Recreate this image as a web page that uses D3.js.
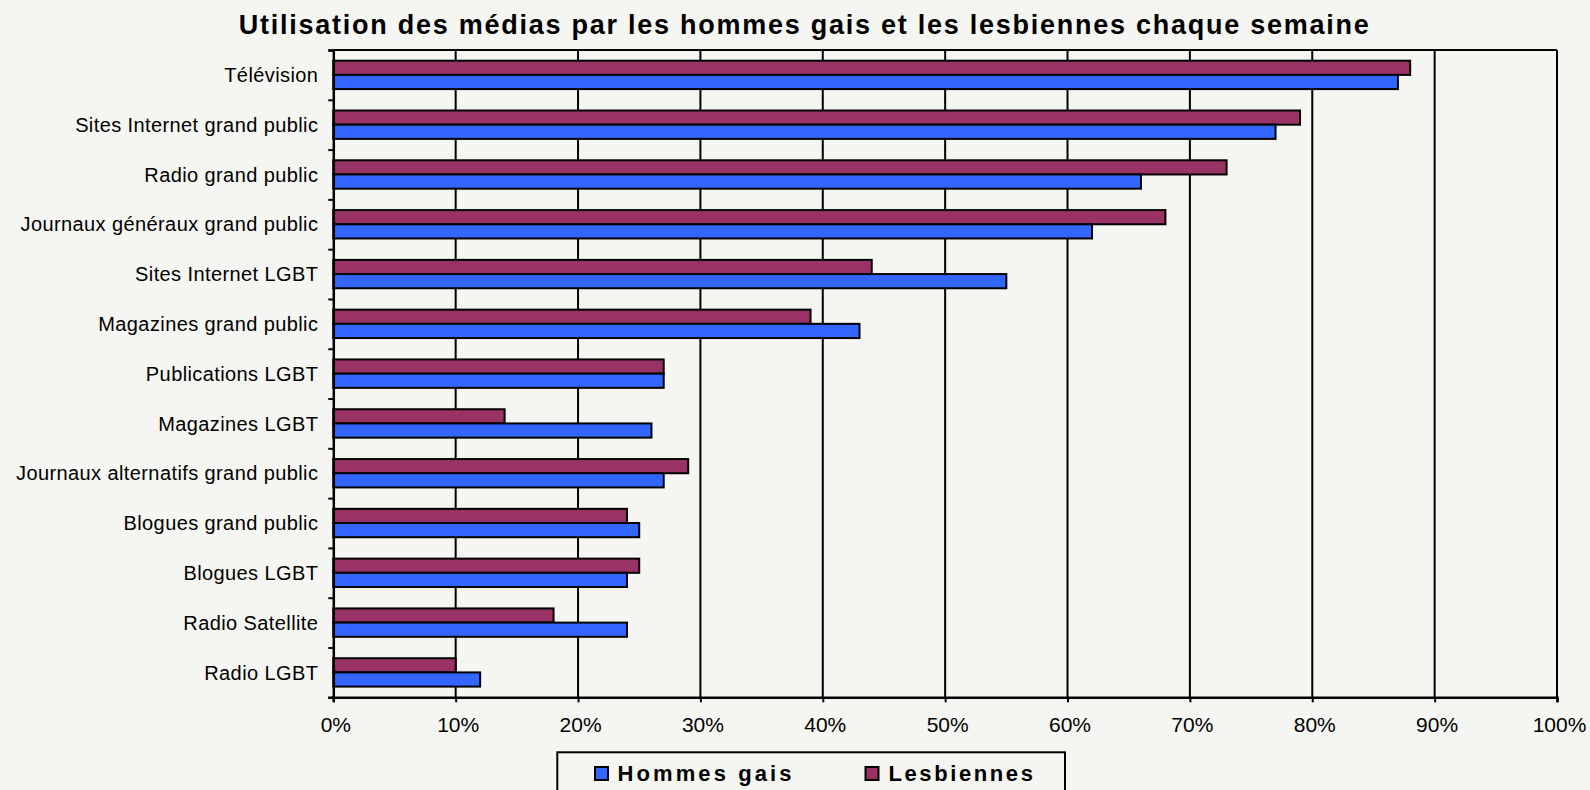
<!DOCTYPE html>
<html>
<head>
<meta charset="utf-8">
<script src="https://cdn.jsdelivr.net/npm/d3@7"></script>
<style>
  html, body { margin: 0; padding: 0; background: #f5f6f1; }
  svg { display: block; }
  text { font-family: "Liberation Sans", Arial, sans-serif; fill: #000; }
</style>
</head>
<body>
<svg id="chart" width="1590" height="790"></svg>
<script>
const categories = [
  "Télévision",
  "Sites Internet grand public",
  "Radio grand public",
  "Journaux généraux grand public",
  "Sites Internet LGBT",
  "Magazines grand public",
  "Publications LGBT",
  "Magazines LGBT",
  "Journaux alternatifs grand public",
  "Blogues grand public",
  "Blogues LGBT",
  "Radio Satellite",
  "Radio LGBT"
];
const hommesGais = [87, 77, 66, 62, 55, 43, 27, 26, 27, 25, 24, 24, 12];
const lesbiennes = [88, 79, 73, 68, 44, 39, 27, 14, 29, 24, 25, 18, 10];
const seriesNames = ["Hommes gais", "Lesbiennes"];
const seriesColors = ["#3366ff", "#993366"];
const xTicks = [0, 10, 20, 30, 40, 50, 60, 70, 80, 90, 100];
const titleText = "Utilisation des médias par les hommes gais et les lesbiennes chaque semaine";

const svg = d3.select("#chart");
const W = 1590, H = 790;
const plot = { left: 333.3, right: 1557, top: 50, bottom: 697.3 };

svg.append("rect").attr("width", W).attr("height", H).attr("fill", "#f5f6f1");

const x = d3.scaleLinear().domain([0, 100]).range([plot.left, plot.right]);
const y = d3.scaleBand().domain(categories).range([plot.top, plot.bottom])
  .paddingInner(0.43).paddingOuter(0.215);
// within a category: Lesbiennes on top, Hommes gais below
const ySub = d3.scaleBand().domain(["Lesbiennes", "Hommes gais"]).range([0, y.bandwidth()]);
const yIdx = d3.scaleLinear().domain([0, categories.length]).range([plot.top, plot.bottom]);

// title
svg.append("text")
  .attr("x", 803.8).attr("y", 34)
  .attr("text-anchor", "middle")
  .attr("font-size", 27).attr("font-weight", "bold")
  .attr("textLength", 1130).attr("lengthAdjust", "spacing")
  .text(titleText);

// gridlines
svg.append("g").selectAll("line").data(xTicks.filter(d => d > 0)).join("line")
  .attr("x1", d => x(d)).attr("x2", d => x(d))
  .attr("y1", plot.top).attr("y2", plot.bottom)
  .attr("stroke", "#000").attr("stroke-width", 2);
// top border
svg.append("line").attr("x1", plot.left).attr("x2", plot.right)
  .attr("y1", plot.top).attr("y2", plot.top)
  .attr("stroke", "#000").attr("stroke-width", 2);

// bars
const rows = categories.map((c, i) => ({ c, Lesbiennes: lesbiennes[i], "Hommes gais": hommesGais[i] }));
const gRows = svg.append("g").selectAll("g").data(rows).join("g")
  .attr("transform", d => `translate(0,${y(d.c)})`);
gRows.selectAll("rect").data(d => ["Lesbiennes", "Hommes gais"].map(s => ({ s, v: d[s] }))).join("rect")
  .attr("x", x(0))
  .attr("y", d => ySub(d.s))
  .attr("width", d => x(d.v) - x(0))
  .attr("height", ySub.bandwidth())
  .attr("fill", d => seriesColors[seriesNames.indexOf(d.s)])
  .attr("stroke", "#000").attr("stroke-width", 2);

// bottom axis
const xAxis = svg.append("g").attr("transform", `translate(0,${plot.bottom})`)
  .call(d3.axisBottom(x).tickValues(xTicks).tickSize(5).tickPadding(7).tickFormat(d => d + "%"));
xAxis.select(".domain").attr("stroke", "#000").attr("stroke-width", 2.5);
xAxis.selectAll(".tick line").attr("stroke", "#000").attr("stroke-width", 2);
xAxis.selectAll(".tick text").attr("font-size", 21).attr("font-family", "Liberation Sans, Arial, sans-serif")
  .attr("fill", "#000").attr("y", 20).attr("dy", "0.71em").attr("dx", 2);

// left axis (ticks between categories)
const yAxisTicks = svg.append("g").attr("transform", `translate(${plot.left},0)`)
  .call(d3.axisLeft(yIdx).tickValues(d3.range(categories.length + 1)).tickSize(5).tickFormat(""));
yAxisTicks.select(".domain").attr("stroke", "#000").attr("stroke-width", 2.5);
yAxisTicks.selectAll(".tick line").attr("stroke", "#000").attr("stroke-width", 2);

// category labels
const yAxisLabels = svg.append("g").attr("transform", `translate(${plot.left},0)`)
  .call(d3.axisLeft(y).tickSize(0).tickPadding(15));
yAxisLabels.select(".domain").remove();
yAxisLabels.selectAll(".tick text")
  .attr("font-size", 20).attr("letter-spacing", "0.4px")
  .attr("font-family", "Liberation Sans, Arial, sans-serif").attr("fill", "#000")
  .attr("dy", "0.36em");

// legend
const lg = svg.append("g");
lg.append("rect").attr("x", 557.3).attr("y", 752.3).attr("width", 507.7).attr("height", 60)
  .attr("fill", "#f5f6f1").attr("stroke", "#000").attr("stroke-width", 2);
const legendItems = [
  { name: seriesNames[0], color: seriesColors[0], sx: 595, tx: 617.5, ls: 3.1 },
  { name: seriesNames[1], color: seriesColors[1], sx: 865.5, tx: 888.5, ls: 2.6 }
];
legendItems.forEach(it => {
  lg.append("rect").attr("x", it.sx).attr("y", 767).attr("width", 13).attr("height", 13)
    .attr("fill", it.color).attr("stroke", "#000").attr("stroke-width", 2);
  lg.append("text").attr("x", it.tx).attr("y", 781)
    .attr("font-size", 22).attr("font-weight", "bold").attr("letter-spacing", it.ls + "px")
    .text(it.name);
});
</script>
</body>
</html>
